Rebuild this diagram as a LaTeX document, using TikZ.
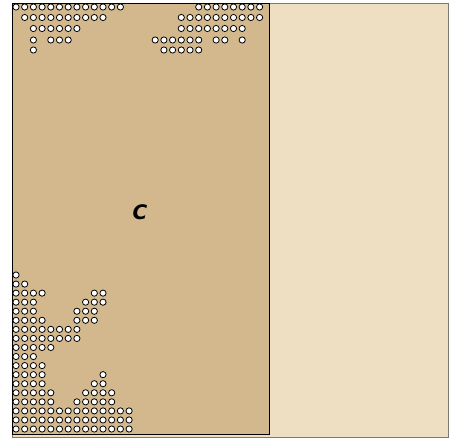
\documentclass[tikz,border=0pt]{standalone}
\usepackage{fontspec}
\setsansfont{DejaVu Sans}
\definecolor{sandlight}{HTML}{EEDFC2}
\definecolor{sanddark}{HTML}{D2B88C}
\definecolor{framegray}{HTML}{7A7A72}
\begin{document}
\begin{tikzpicture}[x=1pt,y=-1pt,
    hole/.style={draw=black, fill=white, line width=0.8pt}]
    \useasboundingbox (0,0) rectangle (452,439);

    % background panel
    \fill[sandlight] (12,3) rectangle (448,437);
    \draw[framegray, line width=1pt] (12,3) rectangle (448,437);

    % left block
    \fill[sanddark] (12,3) rectangle (269,434);
    \draw[black, line width=0.8pt] (12,3) rectangle (269,434);

    % holes, top left
    \foreach \y/\a/\b in {7/0/12, 17.5/1/10, 28.5/2/7, 40/2/2, 40/4/6, 50/2/2}
        \foreach \c in {\a,...,\b}
            \draw[hole] ({16+8.7*\c},\y) circle (3.1);

    % holes, top right
    \foreach \y/\a/\b in {7/21/28, 17.5/19/28, 28.5/19/26, 40/16/21, 40/23/24, 40/26/26, 50/17/21}
        \foreach \c in {\a,...,\b}
            \draw[hole] ({16+8.7*\c},\y) circle (3.1);

    % holes, bottom left
    \foreach \t/\a/\b in {0/0/0, 1/0/1, 2/0/3, 2/9/10, 3/0/2, 3/8/10, 4/0/2, 4/7/9,
            5/0/3, 5/7/9, 6/0/7, 7/0/7, 8/0/4, 9/0/2, 10/0/3, 11/0/3, 11/10/10,
            12/0/3, 12/9/10, 13/0/4, 13/8/11, 14/0/4, 14/7/11, 15/0/13, 16/0/13, 17/0/13}
        \foreach \c in {\a,...,\b}
            \draw[hole] ({16+8.7*\c},{275+9.06*\t}) circle (3.1);

    % label
    \node[font=\sffamily\bfseries\itshape\fontsize{20}{20}\selectfont] (lblC) at (140,212) {C};
\end{tikzpicture}
\end{document}
